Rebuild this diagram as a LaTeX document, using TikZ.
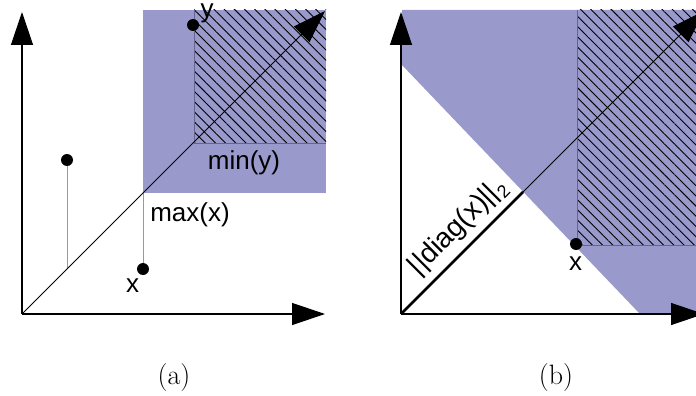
\documentclass[tikz,border=0pt]{standalone}
\usepackage{fontspec}
\setmainfont{Liberation Sans}
\newfontfamily\capfont{Latin Modern Roman}
\usetikzlibrary{arrows.meta,patterns.meta}
\definecolor{regfill}{RGB}{153,153,204}
\definecolor{hatchedge}{RGB}{100,100,140}
\tikzset{
  axis/.style={line width=1.3pt,-{Triangle[length=33pt,width=22pt]}},
  diag/.style={line width=0.9pt,-{Triangle[length=33pt,width=22pt]}},
  region/.style={fill=regfill,draw=none},
  hatched/.style={pattern={Lines[angle=-45,distance=7.2pt,line width=0.9pt]},pattern color=black},
  hedge/.style={draw=hatchedge,line width=1pt},
  drop/.style={draw=black!40,line width=1pt},
  dot/.style={circle,fill=black,inner sep=0pt,minimum size=12pt},
  lab/.style={font=\fontsize{26}{30}\selectfont,inner sep=0pt},
  captext/.style={font=\capfont\fontsize{28}{32}\selectfont,inner sep=0pt}
}
\begin{document}
\begin{tikzpicture}[x=1pt,y=-1pt]
\useasboundingbox (0,0) rectangle (696,396);
\clip (0,0) rectangle (696,396);
% ---------- panel (a) ----------
\coordinate (Oa) at (22,314);
\coordinate (Ya) at (22,12);
\coordinate (Xa) at (325,314);
\coordinate (Da) at (325,11);
\coordinate (Ca) at (143,193);
\coordinate (Pa) at (67,269);
\fill[region] (143,10) rectangle (326,193);
\fill[hatched] (194,10) rectangle (326,143);
\draw[hedge] (194,10) -- (194,143) -- (326,143);
\draw[drop] (Ca) -- (143,269);
\draw[drop] (67,160) -- (Pa);
\draw[diag] (Oa) -- (Da);
\draw[axis] (Oa) -- (Ya);
\draw[axis] (Oa) -- (Xa);
\node[dot] (ya) at (193,25) {};
\node[dot] (xa) at (143,269) {};
\node[dot] (pa) at (67,160) {};
\node[lab,anchor=base] (yl) at (207,18) {y};
\node[lab,anchor=base] (xl) at (132.5,292) {x};
\node[lab] (maxl) at (190,214.5) {max(x)};
\node[lab] (minl) at (244,162.5) {min(y)};
\node[captext] (capa) at (174,378) {(a)};
% ---------- panel (b) ----------
\coordinate (Ob) at (401,314);
\coordinate (Yb) at (401,12);
\coordinate (Xb) at (704,314);
\coordinate (Db) at (704,11);
\coordinate (Mb) at (523,192);
\fill[region] (402,10) -- (710,10) -- (710,314) -- (640,314) -- (402,65) -- cycle;
\fill[hatched] (577,10) rectangle (710,245);
\draw[hedge] (577,10) -- (577,245) -- (710,245);
\draw[diag] (Ob) -- (Db);
\draw[line width=2.8pt] (Ob) -- (Mb);
\draw[axis] (Ob) -- (Yb);
\draw[axis] (Ob) -- (Xb);
\node[dot] (xb) at (576,244) {};
\node[lab,anchor=base] (xbl) at (575.5,270) {x};
\node[font=\fontsize{28}{32}\selectfont,inner sep=0pt,rotate=45,anchor=base] (norml) at (463,232) {||diag(x)||\raisebox{-6pt}{\fontsize{18}{18}\selectfont 2}};
\node[captext] (capb) at (556,378) {(b)};
\end{tikzpicture}
\end{document}
